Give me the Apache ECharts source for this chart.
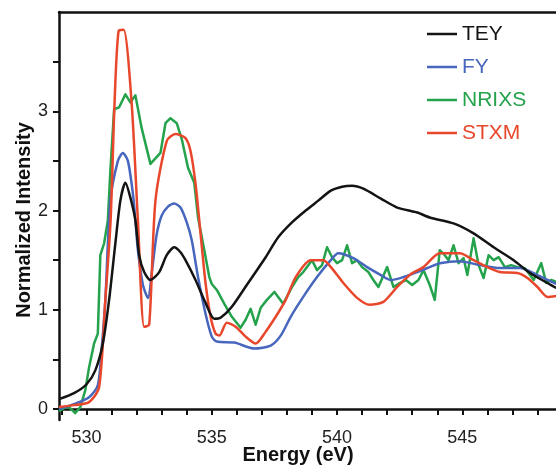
<!DOCTYPE html>
<html><head><meta charset="utf-8">
<script src="https://cdn.jsdelivr.net/npm/echarts@6/dist/echarts.min.js"></script>
<style>html,body{margin:0;padding:0;background:#fff}#c{width:556px;height:466px}</style>
</head><body><div id="c"></div>
<script>
// ---- data ----
const teyE = [528.9,529.5,530.0,530.35,530.65,530.9,531.15,531.35,531.55,531.75,531.95,532.1,532.3,532.55,532.9,533.2,533.5,533.75,533.95,534.35,534.75,535.1,535.35,535.8,536.45,537.15,537.65,538.2,538.75,539.25,539.75,540.2,540.6,541.05,541.75,542.4,543.2,543.7,544.65,545.45,546.25,547.05,547.7,548.4,548.75];
const teyI = [0.10,0.16,0.25,0.39,0.66,1.10,1.67,2.10,2.28,2.13,1.90,1.55,1.38,1.30,1.38,1.55,1.63,1.58,1.50,1.30,1.07,0.91,0.92,1.03,1.27,1.53,1.73,1.88,2.00,2.10,2.20,2.24,2.25,2.22,2.12,2.03,1.98,1.93,1.87,1.77,1.63,1.50,1.37,1.27,1.22];

const fyE = [528.9,529.5,530.1,530.45,530.6,530.75,530.95,531.25,531.45,531.65,531.85,531.95,532.05,532.25,532.45,532.63,532.8,533.0,533.25,533.5,533.75,534.0,534.2,534.45,534.75,535.0,535.2,535.9,536.7,537.35,537.75,538.15,538.65,539.2,539.75,540.05,540.65,541.2,541.75,542.15,542.65,543.2,543.7,544.1,544.9,545.7,546.5,547.3,548.0,548.75];
const fyI = [0.00,0.05,0.12,0.24,0.60,1.10,2.10,2.50,2.58,2.50,2.17,1.90,1.60,1.25,1.12,1.43,1.76,1.95,2.04,2.07,2.03,1.88,1.70,1.33,0.96,0.73,0.68,0.67,0.61,0.64,0.74,0.93,1.13,1.33,1.50,1.57,1.52,1.43,1.35,1.30,1.33,1.38,1.43,1.47,1.49,1.45,1.42,1.42,1.35,1.26];

const nrixsE = [528.9,529.1,529.3,529.55,529.75,529.95,530.1,530.3,530.45,530.55,530.7,530.85,530.95,531.1,531.3,531.55,531.75,531.95,532.2,532.55,532.95,533.15,533.35,533.6,533.8,534.05,534.3,534.45,534.7,534.9,535.0,535.2,535.5,535.8,536.15,536.35,536.55,536.75,536.95,537.2,537.5,537.85,538.2,538.45,538.65,539.0,539.2,539.4,539.6,539.8,540.0,540.2,540.4,540.6,540.8,541.0,541.25,541.45,541.65,542.0,542.25,542.5,542.75,543.0,543.25,543.45,543.7,543.9,544.1,544.3,544.45,544.65,544.85,545.05,545.2,545.45,545.65,545.85,546.05,546.25,546.45,546.7,546.95,547.2,547.5,547.85,548.15,548.35,548.55,548.75];
const nrixsI = [-0.02,0.01,0.02,-0.04,0.02,0.19,0.42,0.66,0.76,1.55,1.67,1.90,2.40,3.02,3.04,3.17,3.09,3.16,2.83,2.47,2.58,2.88,2.93,2.88,2.72,2.43,2.28,1.93,1.60,1.33,1.26,1.20,1.06,0.93,0.82,0.90,1.01,0.85,1.02,1.10,1.18,1.06,1.23,1.33,1.38,1.50,1.40,1.45,1.63,1.53,1.47,1.50,1.65,1.47,1.50,1.43,1.38,1.30,1.23,1.43,1.23,1.27,1.30,1.25,1.30,1.40,1.25,1.10,1.60,1.55,1.50,1.65,1.47,1.52,1.35,1.72,1.45,1.32,1.55,1.50,1.53,1.43,1.45,1.43,1.42,1.30,1.47,1.27,1.30,1.28];

const stxmE = [528.9,529.5,530.1,530.5,530.75,530.96,531.12,531.28,531.48,531.8,532.05,532.3,532.5,532.75,533.2,533.55,533.95,534.15,534.35,534.55,534.75,534.95,535.15,535.3,535.6,535.95,536.35,536.75,537.15,537.55,537.95,538.35,538.95,539.45,539.85,540.25,540.8,541.3,541.85,542.4,542.95,543.45,544.1,544.9,545.45,546.0,546.5,547.2,547.6,548.0,548.4,548.75];
const stxmI = [0.02,0.04,0.07,0.22,1.10,1.90,3.10,3.81,3.82,3.08,1.90,0.83,0.85,2.10,2.70,2.77,2.73,2.60,2.27,1.77,1.27,0.93,0.76,0.74,0.87,0.83,0.73,0.66,0.78,0.93,1.10,1.33,1.50,1.50,1.40,1.27,1.12,1.05,1.08,1.23,1.36,1.43,1.57,1.57,1.50,1.43,1.38,1.37,1.32,1.23,1.13,1.14];

const xTickValues = [529,530,531,532,533,534,535,536,537,538,539,540,541,542,543,544,545,546,547,548];
const xLabelValues = [530,535,540,545];
const yTickValues = [0,0.5,1,1.5,2,2.5,3,3.5];
const yLabelValues = [0,1,2,3];
const seriesNames = ['TEY','FY','NRIXS','STXM'];
const seriesColors = {TEY:'#141414', FY:'#4766bd', NRIXS:'#24a24c', STXM:'#e8472b'};

const zip = (a,b) => a.map((v,i)=>[v,b[i]]);
const dataMap = {TEY:zip(teyE,teyI), FY:zip(fyE,fyI), NRIXS:zip(nrixsE,nrixsI), STXM:zip(stxmE,stxmI)};
const drawOrder = ['NRIXS','FY','STXM','TEY'];

const FONT = 'Liberation Sans, Arial, sans-serif';
const chart = echarts.init(document.getElementById('c'), null, {renderer:'canvas'});
chart.setOption({
  animation:false,
  backgroundColor:'#ffffff',
  grid:{left:59,right:0,top:12,bottom:46,containLabel:false,outerBoundsMode:'none'},
  legend:{
    orient:'vertical', left:422, top:18, itemWidth:30, itemHeight:2.5, itemGap:11, icon:'rect',
    data: seriesNames.map(n=>({name:n, textStyle:{color:seriesColors[n]}})),
    textStyle:{fontSize:21, fontFamily:FONT, lineHeight:22}
  },
  xAxis:[{
    type:'value', min:528.9, max:548.74, position:'bottom',
    axisLine:{show:true, lineStyle:{color:'#111', width:2.5}},
    axisTick:{show:true, inside:false, length:6, lineStyle:{color:'#111', width:2}, customValues:xTickValues},
    axisLabel:{show:true, fontSize:18, color:'#222', fontFamily:FONT, margin:9, customValues:xLabelValues},
    splitLine:{show:false},
    name:'Energy (eV)', nameLocation:'middle', nameGap:25, nameMoveOverlap:false,
    nameTextStyle:{fontSize:20, fontWeight:'bold', color:'#111', fontFamily:FONT, padding:[0,19,0,0]}
  },{
    type:'value', min:528.9, max:548.74, position:'top',
    axisLine:{show:true, lineStyle:{color:'#111', width:2.5}},
    axisTick:{show:false}, axisLabel:{show:false}, splitLine:{show:false}
  }],
  yAxis:{
    type:'value', min:-0.11, max:4.0,
    axisLine:{show:true, lineStyle:{color:'#111', width:2.5}},
    axisTick:{show:true, inside:false, length:6, lineStyle:{color:'#111', width:2}, customValues:yTickValues},
    axisLabel:{show:true, fontSize:18, color:'#222', fontFamily:FONT, margin:11, customValues:yLabelValues},
    splitLine:{show:false},
    name:'Normalized Intensity', nameLocation:'middle', nameGap:25, nameMoveOverlap:false,
    nameTextStyle:{fontSize:20, fontWeight:'bold', color:'#111', fontFamily:FONT, padding:[0,8,0,0]}
  },
  series: drawOrder.map(n=>({
    name:n, type:'line', data:dataMap[n], showSymbol:false, symbol:'none',
    xAxisIndex:0, color:seriesColors[n],
    lineStyle:{color:seriesColors[n], width:2.5, join:'round'},
    smooth: n==='NRIXS' ? false : 0.25
  }))
});
</script></body></html>
